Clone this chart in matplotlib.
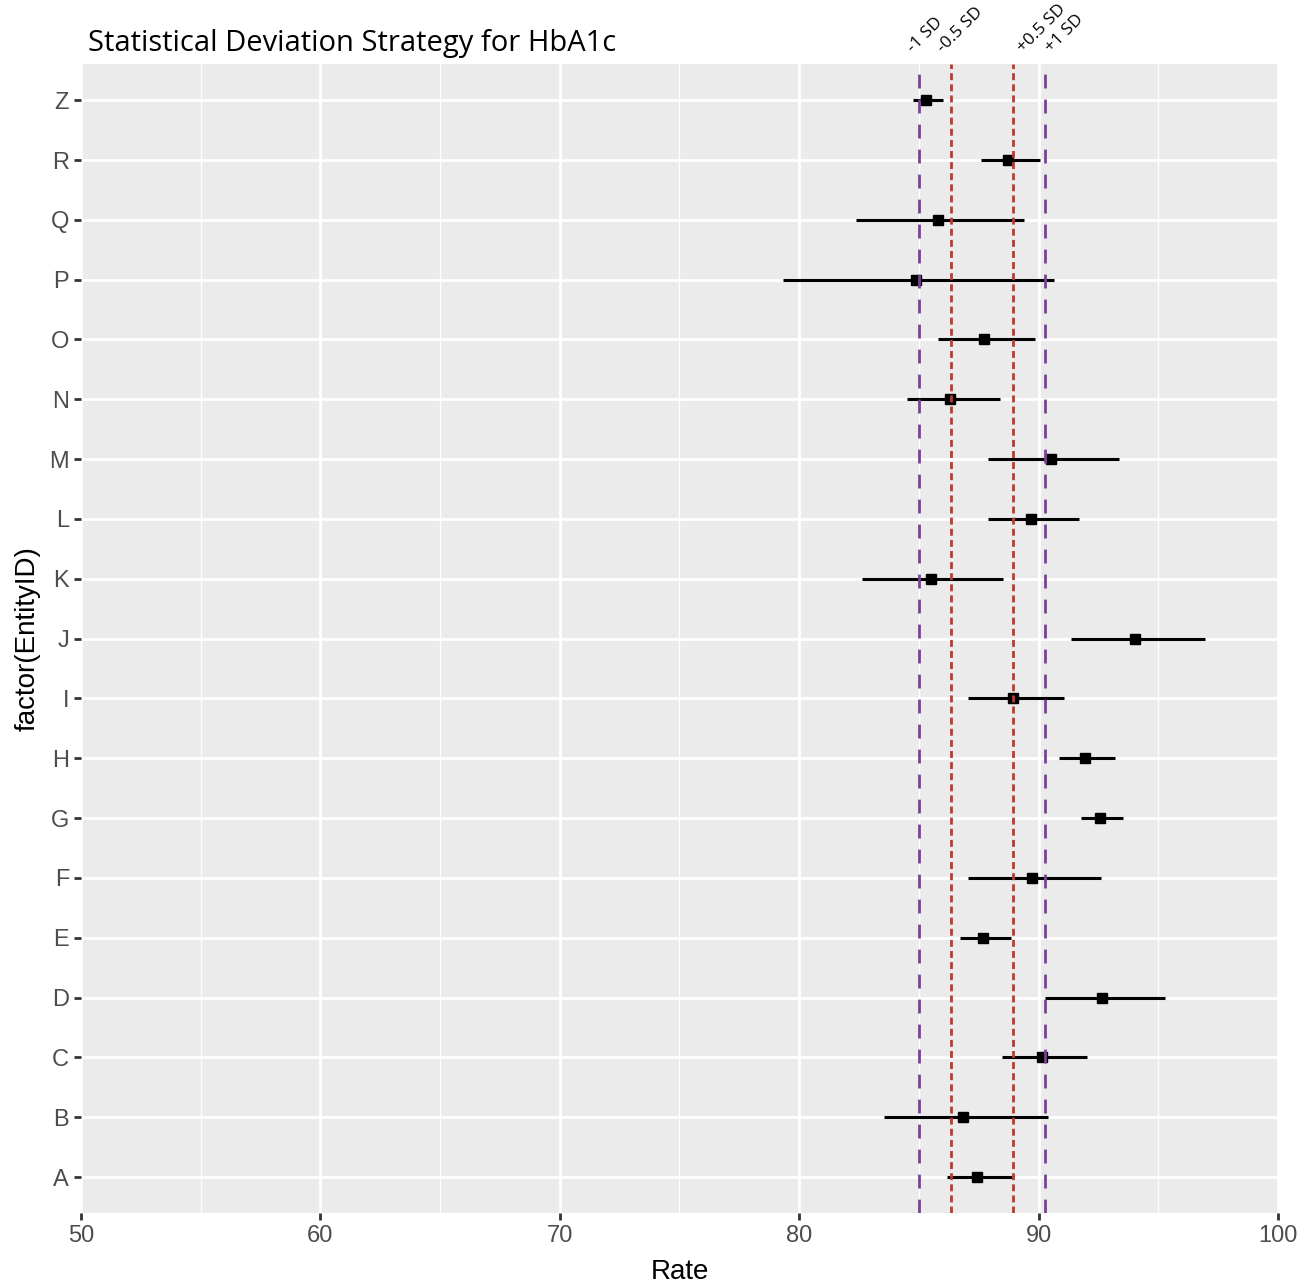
import numpy as np
import matplotlib
matplotlib.use("Agg")
from matplotlib import pyplot as plt

entities = ["A", "B", "C", "D", "E", "F", "G", "H", "I", "J",
            "K", "L", "M", "N", "O", "P", "Q", "R", "Z"]
rate = [87.41, 86.86, 90.16, 92.66, 87.70, 89.74, 92.58, 91.95, 88.95, 94.04,
        85.49, 89.70, 90.53, 86.32, 87.74, 84.90, 85.78, 88.74, 85.28]
lower = [86.16, 83.53, 88.49, 90.28, 86.74, 87.07, 91.79, 90.87, 87.07, 91.37,
         82.61, 87.91, 87.91, 84.49, 85.78, 79.32, 82.36, 87.61, 84.74]
upper = [88.91, 90.41, 92.04, 95.29, 88.87, 92.62, 93.54, 93.20, 91.08, 96.96,
         88.53, 91.70, 93.37, 88.41, 89.87, 90.66, 89.41, 90.07, 85.99]

sd_labels = ["-1 SD", "-0.5 SD", "+0.5 SD", "+1 SD"]
sd_values = [85.02, 86.35, 88.95, 90.28]

fig = plt.figure(figsize=(13.04, 12.86), dpi=100)
ax = fig.add_axes([0.0621, 0.0568, 0.9179, 0.8932])
ax.set_facecolor("#EBEBEB")
for s in ax.spines.values():
    s.set_visible(False)

y = np.arange(1, len(entities) + 1)
ax.set_xlim(50, 100)
ax.set_ylim(0.4, len(entities) + 0.6)

# grid
for v in np.arange(55, 100, 10):
    ax.axvline(v, color="white", lw=1.0, zorder=0)
for v in np.arange(50, 101, 10):
    ax.axvline(v, color="white", lw=2.0, zorder=0)
for v in y:
    ax.axhline(v, color="white", lw=2.0, zorder=0)

ax.hlines(y, lower, upper, color="black", lw=2.2, zorder=2)
ax.plot(rate, y, "s", color="black", ms=7.5, zorder=3)

styles = [((0, (5, 4)), "#7B3F9E"), ((0, (2.5, 1.5)), "#C0392B"),
          ((0, (2.5, 1.5)), "#C0392B"), ((0, (5, 4)), "#7B3F9E")]
offsets = [-0.38, -0.45, 0.30, 0.12]
for lab, v, (ls, c), off in zip(sd_labels, sd_values, styles, offsets):
    ax.axvline(v, color=c, ls=ls, lw=2.0, zorder=4)
    ax.text(v + off, 1.012, lab, transform=ax.get_xaxis_transform(),
            rotation=45, rotation_mode="anchor", ha="left", va="center",
            fontsize=12.5, family="Open Sans", clip_on=False)

ax.set_xticks(np.arange(50, 101, 10))
ax.set_yticks(y)
ax.set_yticklabels(entities)
ax.tick_params(axis="both", colors="#333333", labelcolor="#4D4D4D",
               labelsize=17, length=5, width=2)
for t in ax.get_xticklabels() + ax.get_yticklabels():
    t.set_family("Liberation Sans")

ax.set_xlabel("Rate", fontsize=20, family="Liberation Sans", labelpad=9)
ax.set_ylabel("factor(EntityID)", fontsize=20, family="Liberation Sans", labelpad=6)

fig.text(0.0675, 0.966, "Statistical Deviation Strategy for HbA1c",
         fontsize=21, family="Open Sans", va="center", ha="left")

fig.savefig("out.png", dpi=100)
